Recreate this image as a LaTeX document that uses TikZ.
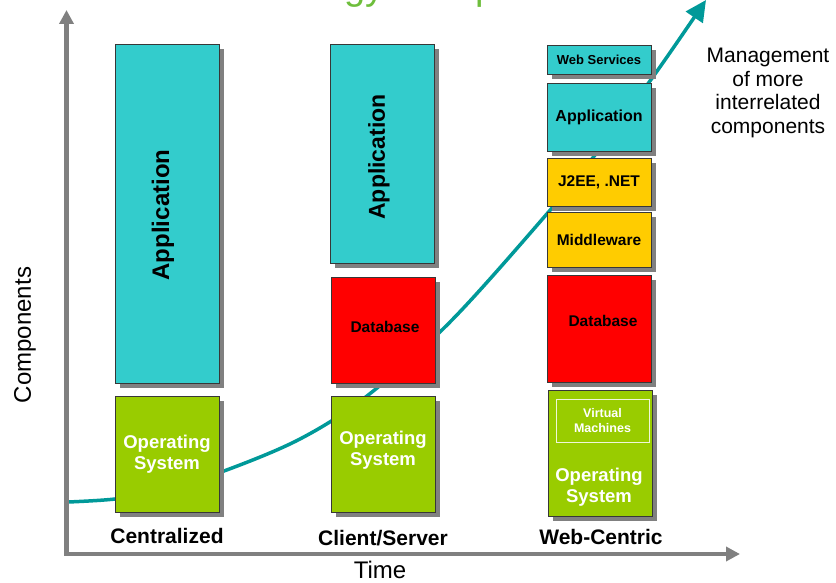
\documentclass[tikz,border=0pt]{standalone}
\usepackage{fontspec}
\setmainfont{Liberation Sans}
\usetikzlibrary{arrows.meta,shadows}
\definecolor{cyanbox}{RGB}{51,204,204}
\definecolor{redbox}{RGB}{255,0,0}
\definecolor{yellowbox}{RGB}{255,204,0}
\definecolor{greenbox}{RGB}{153,204,0}
\definecolor{shadowgray}{RGB}{128,128,128}
\definecolor{axisgray}{RGB}{128,128,128}
\definecolor{curveteal}{RGB}{0,153,153}
\definecolor{titlegreen}{RGB}{110,190,60}
\definecolor{edgegray}{RGB}{55,55,55}
\begin{document}
\begin{tikzpicture}[x=1pt,y=-1pt,
  box/.style={draw=edgegray, line width=0.8pt, inner sep=0pt, align=center,
    font=\bfseries, minimum width=104pt,
    drop shadow={shadow xshift=5pt, shadow yshift=-5pt, fill=shadowgray, opacity=1}},
  lbl/.style={inner sep=0pt, align=center},
  osfont/.style={font=\bfseries\fontsize{18.5}{21.5}\selectfont, text=white},
  collabel/.style={anchor=base, inner sep=0pt, font=\bfseries\fontsize{21}{24}\selectfont},
  axis/.style={draw=axisgray, line width=4.5pt, -{Triangle[length=14pt,width=14pt]}},
  growth/.style={draw=curveteal, line width=3.5pt, -{Triangle[length=21pt,width=20pt]}}
]
\useasboundingbox (0,0) rectangle (836,583);

% title (cut by the top edge, only descenders show)
\node[anchor=base west, inner sep=0pt, text=titlegreen,
  font=\fontsize{38}{40}\selectfont] (title) at (192,-0.8) {Technology Components};

% growth curve
\coordinate (cstart) at (68,502);
\coordinate (ctip) at (706,0);
\draw[growth] plot[smooth, tension=0.55] coordinates {(cstart) (115,499) (160,491) (224,471) (300,439) (367,396) (452,320) (552,208) (595,155) (655,74) (ctip)};

% axes
\coordinate (origin) at (66.5,554);
\coordinate (ytip) at (66.5,10);
\coordinate (xtip) at (740,554);
\draw[axis] (origin) -- (ytip);
\draw[axis] ([xshift=-2.25pt]origin) -- (xtip);

% column 1: Centralized
\node[box, fill=cyanbox, minimum height=339pt] (app1) at (167,213.5) {};
\node[lbl, rotate=90, font=\bfseries\fontsize{24}{28}\selectfont] (app1t) at (163,215) {Application};
\node[box, fill=greenbox, minimum height=116pt, osfont] (os1) at (167,454) {Operating\\System};

% column 2: Client/Server
\node[box, fill=cyanbox, minimum height=219pt] (app2) at (382,153.5) {};
\node[lbl, rotate=90, font=\bfseries\fontsize{23}{27}\selectfont] (app2t) at (379,157) {Application};
\node[box, fill=redbox, minimum height=106pt] (db2) at (383,330) {};
\node[lbl, font=\bfseries\fontsize{15.5}{18}\selectfont] (db2t) at (385,327) {Database};
\node[box, fill=greenbox, minimum height=116pt] (os2) at (383,454) {};
\node[lbl, osfont] (os2t) at (383,450) {Operating\\System};

% column 3: Web-Centric
\node[box, fill=cyanbox, minimum height=29pt] (ws3) at (599,59.5)
  {\fontsize{13}{15}\selectfont Web Services};
\node[box, fill=cyanbox, minimum height=68pt] (app3) at (599,117)
  {\fontsize{16}{19}\selectfont Application};
\node[box, fill=yellowbox, minimum height=48pt] (j2ee3) at (599,182)
  {\fontsize{15.5}{18}\selectfont J2EE, .NET};
\node[box, fill=yellowbox, minimum height=55pt] (mid3) at (599,239.5)
  {\fontsize{15.5}{18}\selectfont Middleware};
\node[box, fill=redbox, minimum height=107pt] (db3) at (599,328.5) {};
\node[lbl, font=\bfseries\fontsize{15.5}{18}\selectfont] (db3t) at (603,321) {Database};
\node[box, fill=greenbox, minimum height=126pt] (os3) at (600,453) {};
\node[draw=white!85!greenbox, line width=1pt, minimum width=93pt, minimum height=43pt,
  inner sep=0pt, align=center, text=white, font=\bfseries\fontsize{12.5}{15.5}\selectfont]
  (vm3) at (602.5,420.5) {Virtual\\Machines};
\node[lbl, osfont] (os3t) at (599,487) {Operating\\System};

% column labels
\node[collabel] (c1) at (167,543) {Centralized};
\node[collabel] (c2) at (383,545) {Client/Server};
\node[collabel] (c3) at (601,544) {Web-Centric};

% axis labels
\node[rotate=90, inner sep=0pt, font=\fontsize{24}{28}\selectfont] (ylab) at (25,335) {Components};
\node[inner sep=0pt, font=\fontsize{24}{28}\selectfont] (xlab) at (380,570) {Time};

% annotation
\node[anchor=north, inner sep=0pt, align=center, font=\fontsize{21}{23.5}\selectfont]
  (mgmt) at (768,48) {Management\\of more\\interrelated\\components};
\end{tikzpicture}
\end{document}
